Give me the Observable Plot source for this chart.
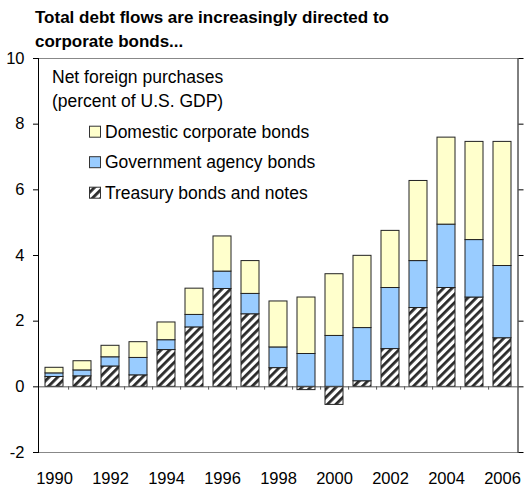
<!DOCTYPE html>
<html>
<head>
<meta charset="utf-8">
<script src="https://cdn.jsdelivr.net/npm/d3@7"></script>
<script src="https://cdn.jsdelivr.net/npm/@observablehq/plot@0.6"></script>
<style>
  body { margin: 0; background: #fff; }
  #wrap { position: relative; width: 526px; height: 489px; font-family: "Liberation Sans", Arial, sans-serif; }
  #title { position: absolute; left: 35px; top: 6px; font-weight: bold; font-size: 17px; line-height: 24px; color: #000; }
</style>
</head>
<body>
<div id="wrap">
  <div id="chart"></div>
  <div id="title">Total debt flows are increasingly directed to<br>corporate bonds...</div>
</div>
<script>
// ---- data (percent of U.S. GDP) ----
const years = [1990, 1991, 1992, 1993, 1994, 1995, 1996, 1997, 1998, 1999, 2000, 2001, 2002, 2003, 2004, 2005, 2006];
const treasury  = [0.30, 0.32, 0.62, 0.35, 1.12, 1.81, 2.98, 2.21, 0.57, -0.10, -0.55, 0.17, 1.15, 2.40, 3.01, 2.72, 1.48];
const agency    = [0.11, 0.18, 0.28, 0.53, 0.30, 0.38, 0.53, 0.62, 0.63, 1.00, 1.55, 1.62, 1.86, 1.43, 1.93, 1.75, 2.20];
const corporate = [0.17, 0.28, 0.35, 0.48, 0.54, 0.80, 1.07, 1.00, 1.40, 1.72, 1.88, 2.20, 1.74, 2.44, 2.65, 2.99, 3.78];
const seriesNames = ["Treasury bonds and notes", "Government agency bonds", "Domestic corporate bonds"];
const yTicks = [-2, 0, 2, 4, 6, 8, 10];
const noteLines = ["Net foreign purchases", "(percent of U.S. GDP)"];

const seriesValues = [treasury, agency, corporate];
const rows = years.flatMap((year, i) =>
  seriesNames.map((series, k) => ({year, series, value: seriesValues[k][i]})));

const fillOf = {
  [seriesNames[0]]: "url(#hatch)",
  [seriesNames[1]]: "#99CCFF",
  [seriesNames[2]]: "#FFFFCC"
};

const W = 526, H = 489, mL = 38, mR = 8.5, mT = 58, mB = 37;
const pIn = 0.35, pOut = 0.175;
const step = (W - mL - mR) / (years.length - pIn + 2 * pOut);

const chart = Plot.plot({
  width: W, height: H,
  marginLeft: mL, marginRight: mR, marginTop: mT, marginBottom: mB,
  style: {fontFamily: '"Liberation Sans", Arial, sans-serif', fontSize: "16.5px", color: "#000", background: "transparent", overflow: "visible"},
  x: {type: "band", domain: years, paddingInner: pIn, paddingOuter: pOut, label: null},
  y: {domain: [-2, 10], label: null},
  color: {type: "identity"},
  marks: [
    Plot.ruleY([10], {stroke: "#888"}),
    Plot.ruleY([-2], {stroke: "#888"}),
    Plot.barY(rows, Plot.stackY({x: "year", y: "value", z: "series", fill: d => fillOf[d.series], stroke: "#222", strokeWidth: 1})),
    Plot.ruleY([0], {stroke: "#555"}),
    Plot.ruleX(years.slice(0, -1), {x: d => d, y1: 0, y2: -0.1, dx: step / 2, stroke: "#555"}),
    Plot.axisY({ticks: yTicks, tickSize: 5, tickPadding: 9, tickFormat: d => String(d)}),
    Plot.axisY({anchor: "right", ticks: yTicks, tickSize: 5, tickFormat: () => ""}),
    Plot.axisX({tickSize: 0, tickPadding: 20, tickFormat: d => d % 2 === 0 ? String(d) : ""}),
    Plot.frame({anchor: "left", stroke: "#000"}),
    Plot.frame({anchor: "right", stroke: "#000"})
  ]
});

const svg = d3.select(chart);
const defs = svg.insert("defs", ":first-child");
const pat = defs.append("pattern")
  .attr("id", "hatch")
  .attr("patternUnits", "userSpaceOnUse")
  .attr("width", 6).attr("height", 6)
  .attr("patternTransform", "rotate(45)");
pat.append("rect").attr("width", 6).attr("height", 6).attr("fill", "#fff");
pat.append("rect").attr("width", 2.8).attr("height", 6).attr("fill", "#2a2a2a");

const g = svg.append("g").attr("font-size", "17.5px").attr("fill", "#000").attr("text-anchor", "start");
noteLines.forEach((t, j) => {
  g.append("text").attr("x", 52).attr("y", 77 + j * 24).attr("dy", "0.35em").text(t);
});
[2, 1, 0].forEach((k, j) => {
  const cy = 131.7 + j * 30.5;
  g.append("rect").attr("x", 89.5).attr("y", cy - 5.5).attr("width", 11).attr("height", 11)
    .attr("fill", fillOf[seriesNames[k]]).attr("stroke", "#333");
  g.append("text").attr("x", 105).attr("y", cy).attr("dy", "0.35em").text(seriesNames[k]);
});

document.getElementById("chart").appendChild(chart);
</script>
</body>
</html>
